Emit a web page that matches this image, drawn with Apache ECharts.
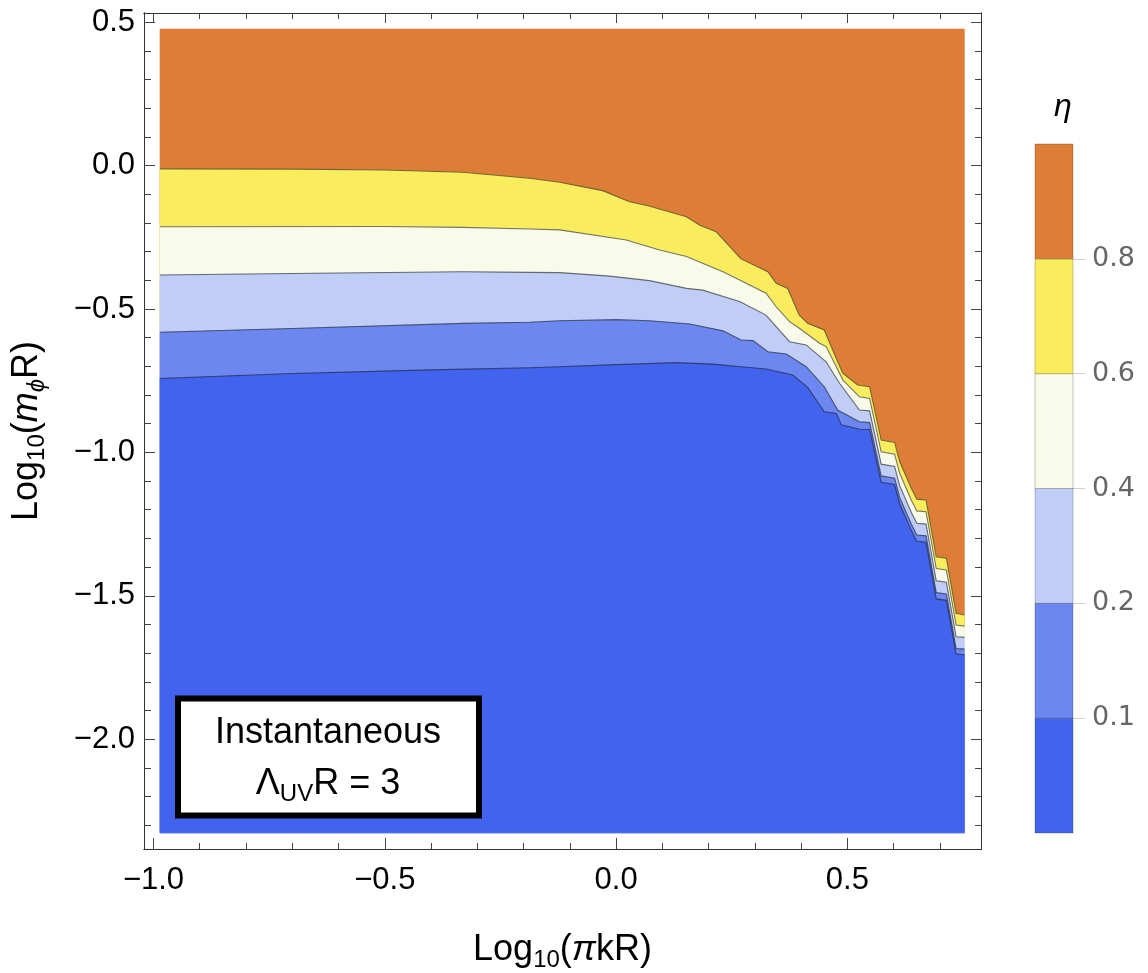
<!DOCTYPE html>
<html><head><meta charset="utf-8">
<script src="https://cdn.jsdelivr.net/npm/echarts@6/dist/echarts.min.js"></script>
<style>html,body{margin:0;padding:0;background:#fff}#c{width:1148px;height:973px}</style>
</head><body><div id="c"></div>
<script>
// ---------------- data ----------------
// extent of the computed (filled) region
const fillX = [-0.986, 0.753];
const fillY = [-2.327, 0.477];
// contour levels (eta) and their traced lines [log10(pi k R), log10(m_phi R)]
const levels = [0.8, 0.6, 0.4, 0.2, 0.1];
const contour08 = [[-0.986,-0.011],[-0.70,-0.012],[-0.50,-0.015],[-0.332,-0.023],[-0.187,-0.044],[-0.122,-0.058],[-0.029,-0.087],[0.029,-0.126],[0.069,-0.140],[0.152,-0.178],[0.180,-0.207],[0.216,-0.230],[0.270,-0.325],[0.328,-0.370],[0.346,-0.410],[0.371,-0.428],[0.396,-0.521],[0.414,-0.550],[0.450,-0.573],[0.479,-0.684],[0.490,-0.724],[0.522,-0.765],[0.548,-0.771],[0.573,-0.957],[0.602,-0.965],[0.613,-1.032],[0.638,-1.125],[0.650,-1.163],[0.670,-1.166],[0.692,-1.364],[0.714,-1.369],[0.735,-1.561],[0.753,-1.567]];
const contour06 = [[-0.986,-0.213],[-0.50,-0.212],[-0.332,-0.215],[-0.187,-0.221],[-0.122,-0.224],[0.022,-0.259],[0.094,-0.294],[0.152,-0.317],[0.231,-0.370],[0.267,-0.399],[0.324,-0.445],[0.346,-0.492],[0.375,-0.544],[0.396,-0.567],[0.440,-0.619],[0.454,-0.631],[0.476,-0.701],[0.490,-0.747],[0.526,-0.806],[0.548,-0.812],[0.573,-0.998],[0.602,-1.006],[0.613,-1.073],[0.638,-1.166],[0.650,-1.204],[0.670,-1.207],[0.692,-1.405],[0.714,-1.410],[0.735,-1.602],[0.753,-1.606]];
const contour04 = [[-0.986,-0.381],[-0.70,-0.376],[-0.332,-0.370],[-0.187,-0.372],[-0.122,-0.373],[-0.014,-0.385],[0.072,-0.401],[0.152,-0.428],[0.187,-0.434],[0.267,-0.474],[0.324,-0.521],[0.375,-0.614],[0.411,-0.625],[0.454,-0.684],[0.483,-0.759],[0.526,-0.852],[0.548,-0.855],[0.573,-1.041],[0.602,-1.049],[0.613,-1.116],[0.638,-1.209],[0.650,-1.247],[0.670,-1.250],[0.692,-1.448],[0.714,-1.453],[0.735,-1.643],[0.753,-1.645]];
const contour02 = [[-0.986,-0.581],[-0.70,-0.568],[-0.332,-0.550],[-0.187,-0.546],[-0.122,-0.541],[0.000,-0.537],[0.072,-0.541],[0.159,-0.552],[0.231,-0.576],[0.270,-0.608],[0.296,-0.610],[0.328,-0.649],[0.368,-0.657],[0.411,-0.701],[0.450,-0.771],[0.479,-0.852],[0.526,-0.893],[0.548,-0.896],[0.573,-1.082],[0.602,-1.090],[0.613,-1.157],[0.638,-1.250],[0.650,-1.288],[0.670,-1.291],[0.692,-1.489],[0.714,-1.494],[0.735,-1.684],[0.753,-1.686]];
const contour01 = [[-0.986,-0.742],[-0.70,-0.725],[-0.40,-0.712],[-0.187,-0.705],[-0.122,-0.701],[0.000,-0.694],[0.130,-0.687],[0.209,-0.692],[0.270,-0.701],[0.324,-0.709],[0.382,-0.730],[0.414,-0.773],[0.450,-0.858],[0.476,-0.864],[0.487,-0.904],[0.526,-0.919],[0.548,-0.920],[0.573,-1.104],[0.602,-1.112],[0.613,-1.179],[0.638,-1.272],[0.650,-1.310],[0.670,-1.313],[0.692,-1.511],[0.714,-1.516],[0.735,-1.703],[0.753,-1.706]];
const contours = [contour08, contour06, contour04, contour02, contour01];
// region colours: above 0.8, 0.6-0.8, 0.4-0.6, 0.2-0.4, 0.1-0.2, below 0.1
const regionColors = ['#DE7D38', '#F9ED5D', '#F9FBEA', '#BFCDF7', '#6C88F0', '#4163EE'];
// axis ticks
const xMajor = [-1.0, -0.5, 0.0, 0.5];
const xMinor = [-0.9,-0.8,-0.7,-0.6,-0.4,-0.3,-0.2,-0.1,0.1,0.2,0.3,0.4,0.6,0.7];
const yMajor = [-2.0, -1.5, -1.0, -0.5, 0.0, 0.5];
const yMinor = [-2.3,-2.2,-2.1,-1.9,-1.8,-1.7,-1.6,-1.4,-1.3,-1.2,-1.1,-0.9,-0.8,-0.7,-0.6,-0.4,-0.3,-0.2,-0.1,0.1,0.2,0.3,0.4];
const xRange = [-1.0205, 0.7888];
const yRange = [-2.3833, 0.5326];
// colour bar (bottom to top)
const barColors = ['#4163EE', '#6C88F0', '#BFCDF7', '#F9FBEA', '#F9ED5D', '#DE7D38'];
const barTickLabels = ['0.1', '0.2', '0.4', '0.6', '0.8'];

// ---------------- chart ----------------
const FONT = 'Liberation Sans';
function fmt(v){ return (v < -1e-9 ? '\u2212' : '') + Math.abs(v).toFixed(1); }

const richTitle = {
  t: {fontSize: 36, fontFamily: FONT, color: '#000', lineHeight: 44},
  i: {fontSize: 36, fontFamily: FONT, fontStyle: 'italic', color: '#000', lineHeight: 44},
  s: {fontSize: 24, fontFamily: FONT, color: '#000', lineHeight: 24, verticalAlign: 'bottom'},
  si: {fontSize: 24, fontFamily: FONT, fontStyle: 'italic', color: '#000', lineHeight: 24, verticalAlign: 'bottom'}
};

function mkX(pos, ticks, len, labels, extra){
  return Object.assign({
    type: 'value', gridIndex: 0, position: pos, min: xRange[0], max: xRange[1],
    axisLine: {show: true, onZero: false, lineStyle: {color: '#333', width: 1}},
    axisTick: {show: true, inside: true, length: len, customValues: ticks, lineStyle: {color: '#444', width: 1}},
    axisLabel: labels ? {show: true, customValues: xMajor, formatter: fmt, margin: 16, color: '#000', fontFamily: FONT, fontSize: 31} : {show: false},
    splitLine: {show: false}
  }, extra || {});
}
function mkY(pos, ticks, len, labels, extra){
  return Object.assign({
    type: 'value', gridIndex: 0, position: pos, min: yRange[0], max: yRange[1],
    axisLine: {show: true, onZero: false, lineStyle: {color: '#333', width: 1}},
    axisTick: {show: true, inside: true, length: len, customValues: ticks, lineStyle: {color: '#444', width: 1}},
    axisLabel: labels ? {show: true, customValues: yMajor, formatter: fmt, margin: 9, color: '#000', fontFamily: FONT, fontSize: 31} : {show: false},
    splitLine: {show: false}
  }, extra || {});
}

const option = {
  animation: false,
  backgroundColor: '#fff',
  grid: [
    {left: 144, top: 13, width: 837, height: 836, containLabel: false, outerBoundsMode: 'none'},
    {left: 1035, top: 144, width: 38, height: 689, containLabel: false, outerBoundsMode: 'none'}
  ],
  xAxis: [
    mkX('bottom', xMajor, 11, true, {
      name: '{t|Log}{s|10}{t|(}{i|\u03C0}{t|kR)}', nameLocation: 'middle', nameGap: 79,
      nameTextStyle: {rich: richTitle}
    }),
    mkX('bottom', xMinor, 6, false),
    mkX('top', xMajor, 10, false),
    mkX('top', xMinor, 6, false),
    {type: 'value', gridIndex: 1, min: 0, max: 1, show: false}
  ],
  yAxis: [
    mkY('left', yMajor, 11, true, {
      name: '{t|Log}{s|10}{t|(}{i|m}{si|\u03D5}{t|R)}', nameLocation: 'middle', nameGap: 95, nameRotate: 90,
      nameTextStyle: {rich: richTitle}
    }),
    mkY('left', yMinor, 7, false),
    mkY('right', yMajor, 10, false),
    mkY('right', yMinor, 6, false),
    {type: 'value', gridIndex: 1, position: 'right', min: 0, max: 6,
     axisLine: {show: false, onZero: false},
     axisTick: {show: true, length: 12, customValues: [1,2,3,4,5], lineStyle: {color: '#d0d0d0', width: 1}},
     axisLabel: {show: true, customValues: [1,2,3,4,5], formatter: v => barTickLabels[Math.round(v) - 1],
                 margin: 19, color: '#666', fontFamily: 'DejaVu Sans', fontSize: 27},
     splitLine: {show: false}}
  ],
  series: [
    { // filled regions
      type: 'custom', xAxisIndex: 0, yAxisIndex: 0, silent: true, z: 2,
      data: regionColors.map((c, k) => [k]),
      renderItem: function(params, api){
        const k = params.dataIndex;
        let pts;
        if (k === 0) pts = [[fillX[0], fillY[1]], [fillX[1], fillY[1]], [fillX[1], fillY[0]], [fillX[0], fillY[0]]];
        else pts = contours[k - 1].concat([[fillX[1], fillY[0]], [fillX[0], fillY[0]]]);
        return {type: 'polygon', shape: {points: pts.map(p => api.coord(p))},
                style: {fill: regionColors[k], stroke: regionColors[k], lineWidth: 0.5}};
      }
    },
    { // contour lines
      type: 'custom', xAxisIndex: 0, yAxisIndex: 0, silent: true, z: 3,
      data: levels.map((l, k) => [k]),
      renderItem: function(params, api){
        const c = contours[params.dataIndex];
        return {type: 'polyline', shape: {points: c.map(p => api.coord(p))},
                style: {stroke: 'rgba(35,35,35,0.62)', lineWidth: 1.1, fill: null}};
      }
    },
    { // colour bar
      type: 'custom', xAxisIndex: 4, yAxisIndex: 4, silent: true, z: 2,
      data: barColors.map((c, i) => [0, i]),
      renderItem: function(params, api){
        const i = api.value(1);
        const p0 = api.coord([0, i + 1]);
        const p1 = api.coord([1, i]);
        return {type: 'rect', shape: {x: p0[0], y: p0[1], width: p1[0] - p0[0], height: p1[1] - p0[1]},
                style: {fill: barColors[i], stroke: 'rgba(0,0,0,0.28)', lineWidth: 0.8}};
      }
    }
  ],
  graphic: [
    {type: 'rect', z: 100, shape: {x: 178, y: 698.5, width: 301, height: 117},
     style: {fill: '#fff', stroke: '#000', lineWidth: 6}},
    {type: 'text', z: 101, x: 328, y: 733,
     style: {text: 'Instantaneous', font: '36px "Liberation Sans"', fill: '#000', align: 'center', verticalAlign: 'middle'}},
    {type: 'text', z: 101, x: 328, y: 784,
     style: {text: '{a|\u039B}{s|UV}{a|R = 3}', align: 'center', verticalAlign: 'middle',
       rich: {a: {fontSize: 36, fontFamily: FONT, fill: '#000', lineHeight: 44},
              s: {fontSize: 24, fontFamily: FONT, fill: '#000', lineHeight: 24, verticalAlign: 'bottom'}}}},
    {type: 'text', z: 101, x: 1063, y: 107,
     style: {text: '\u03B7', font: 'italic 32px "Liberation Sans"', fill: '#000', align: 'center', verticalAlign: 'middle'}}
  ]
};
const chart = echarts.init(document.getElementById('c'));
chart.setOption(option);
</script></body></html>
